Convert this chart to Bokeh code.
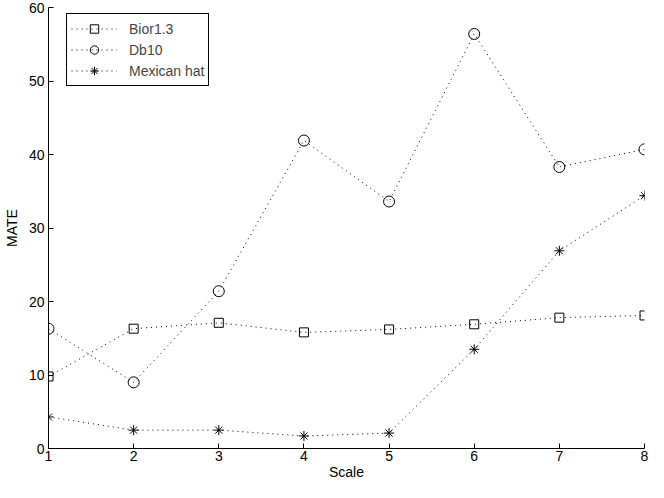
from bokeh.plotting import figure
from bokeh.models import Legend, LegendItem, Range1d, FixedTicker
from bokeh.embed import file_html
from bokeh.resources import INLINE

scales = [1, 2, 3, 4, 5, 6, 7, 8]
bior13 = [9.8, 16.3, 17.1, 15.8, 16.2, 16.9, 17.8, 18.1]
db10 = [16.3, 9.0, 21.4, 41.9, 33.6, 56.4, 38.3, 40.7]
mexhat = [4.3, 2.5, 2.5, 1.7, 2.1, 13.5, 26.9, 34.4]
series_names = ["Bior1.3", "Db10", "Mexican hat"]
y_ticks = [0, 10, 20, 30, 40, 50, 60]

FONT = "Liberation Sans"

p = figure(width=648, height=482, output_backend="svg", toolbar_location=None,
           x_range=Range1d(1, 8), y_range=Range1d(0, 60),
           min_border_left=10, min_border_right=4, min_border_top=7, min_border_bottom=0)
p.outline_line_color = None
p.xgrid.visible = False
p.ygrid.visible = False
p.background_fill_color = "white"

for ax in (p.xaxis[0], p.yaxis[0]):
    ax.major_tick_in = 5
    ax.major_tick_out = 0
    ax.minor_tick_line_color = None
    ax.axis_line_color = "black"
    ax.major_tick_line_color = "black"
    ax.major_label_text_font = FONT
    ax.major_label_text_font_size = "14px"
    ax.major_label_text_color = "black"
    ax.axis_label_text_font = FONT
    ax.axis_label_text_font_size = "14px"
    ax.axis_label_text_font_style = "normal"
    ax.axis_label_text_color = "black"

p.xaxis.ticker = FixedTicker(ticks=scales)
p.yaxis.ticker = FixedTicker(ticks=y_ticks)
p.xaxis.axis_label = "Scale"
p.yaxis.axis_label = "MATE"
p.xaxis.major_label_standoff = 2
p.xaxis.axis_label_standoff = 0
p.yaxis.major_label_standoff = 4
p.yaxis.axis_label_standoff = 6

dash = "1 4"
items = []

l1 = p.line(scales, bior13, line_color="black", line_dash=dash, line_width=1)
m1 = p.scatter(scales, bior13, marker="square", size=9, line_color="black", fill_alpha=0, line_width=1)
items.append(LegendItem(label=series_names[0], renderers=[l1, m1]))

l2 = p.line(scales, db10, line_color="black", line_dash=dash, line_width=1)
m2 = p.scatter(scales, db10, marker="circle", size=11, line_color="black", fill_alpha=0, line_width=1)
items.append(LegendItem(label=series_names[1], renderers=[l2, m2]))

l3 = p.line(scales, mexhat, line_color="black", line_dash=dash, line_width=1)
m3 = p.scatter(scales, mexhat, marker="asterisk", size=10, line_color="black", line_width=1)
items.append(LegendItem(label=series_names[2], renderers=[l3, m3]))

legend = Legend(items=items, location=(18, 362))
legend.border_line_color = "black"
legend.border_line_width = 1
legend.border_line_alpha = 1
legend.background_fill_color = "white"
legend.background_fill_alpha = 1
legend.label_text_font = FONT
legend.label_text_font_size = "14px"
legend.glyph_width = 46
legend.glyph_height = 21
legend.label_height = 21
legend.spacing = 0
legend.padding = 4
legend.margin = 0
legend.label_standoff = 12
p.add_layout(legend)

open("out.html", "w").write(file_html(p, INLINE))
